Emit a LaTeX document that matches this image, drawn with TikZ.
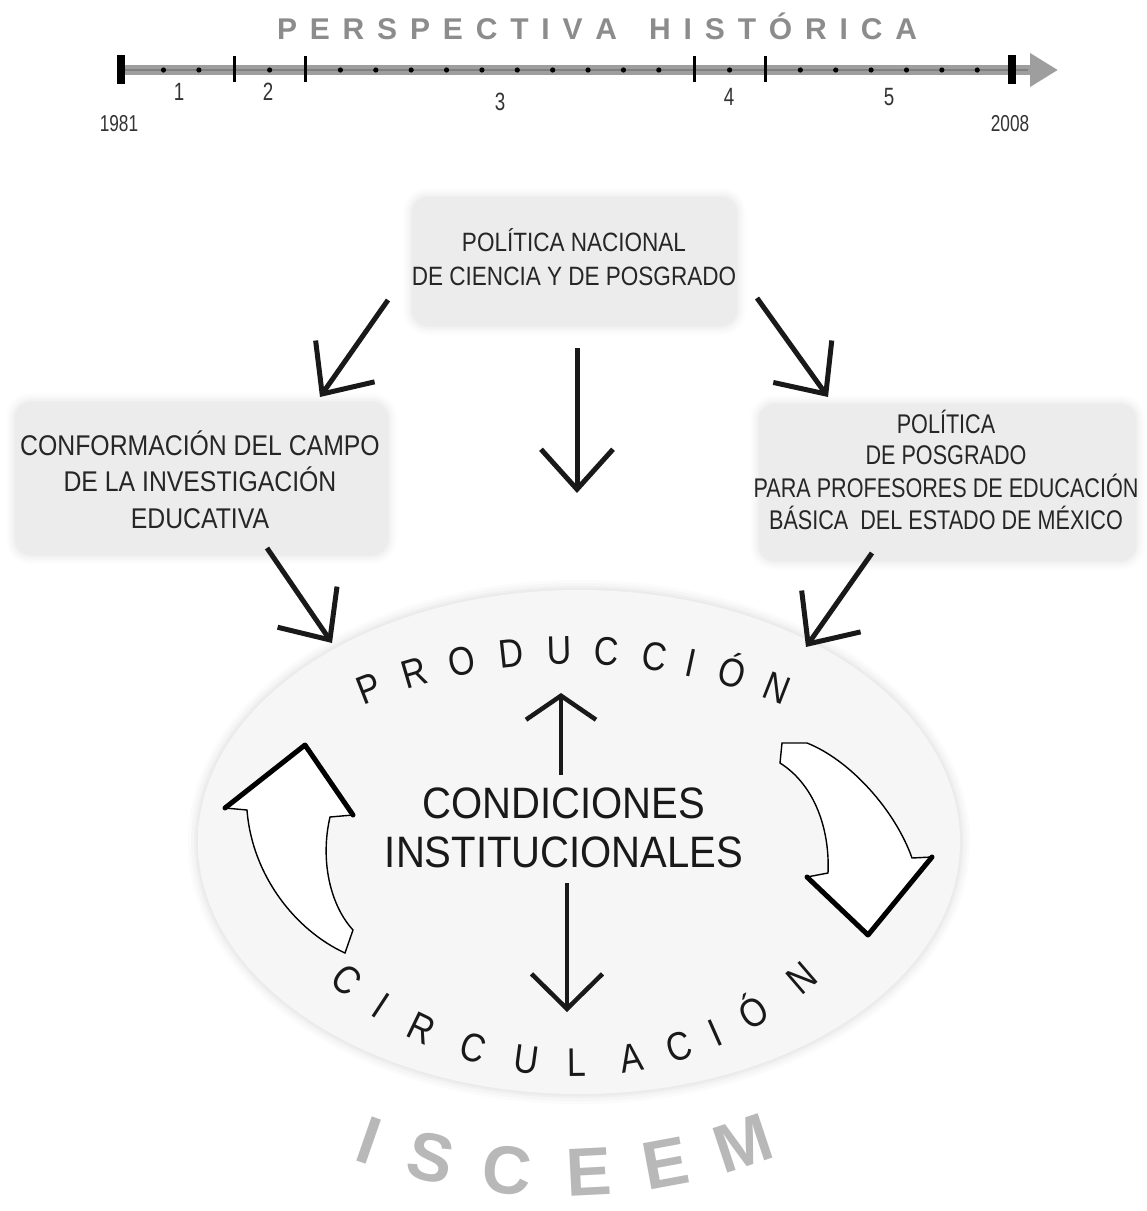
\documentclass[tikz,border=0pt]{standalone}
\usepackage{fontspec}
\setmainfont{Liberation Sans}
\newfontfamily\fntTop[FakeStretch=0.85]{Liberation Sans}
\newfontfamily\fntLeft[FakeStretch=0.87]{Liberation Sans}
\newfontfamily\fntRight[FakeStretch=0.80]{Liberation Sans}
\newfontfamily\fntDig[FakeStretch=0.75]{Liberation Sans}
\newfontfamily\fntCond[FakeStretch=0.91]{Liberation Sans}
\newfontfamily\fntArc[FakeStretch=0.85]{Liberation Sans}
\usetikzlibrary{arrows.meta,calc,shapes.geometric}
\definecolor{boxgray}{gray}{0.925}
\definecolor{oin}{gray}{0.965}
\definecolor{oout}{gray}{0.9}
\definecolor{tlgray}{gray}{0.62}
\definecolor{titlegray}{gray}{0.55}
\definecolor{logogray}{gray}{0.72}
\pgfdeclareradialshading{ovalsh}{\pgfpoint{0bp}{0bp}}{color(0bp)=(oin); color(30bp)=(oin); color(50bp)=(oout); color(72bp)=(oout)}
% soft halo behind a box: centre x, centre y, width, height
\newcommand\softhalo[4]{%
  \foreach \d/\p in {9/12,7/25,5/42,3/62,1/82}{%
    \fill[boxgray!\p, rounded corners=16+\d] (#1-#3/2-\d,#2-#4/2-\d) rectangle (#1+#3/2+\d,#2+#4/2+\d);}}
\begin{document}
\begin{tikzpicture}[x=1pt,y=1pt,
  lbl/.style={inner sep=0pt, outer sep=0pt, anchor=base},
  box/.style={draw=none, fill=boxgray, rounded corners=16pt, inner sep=0pt},
  arr/.style={line width=5pt, black!90, -{Straight Barb[length=40pt,width=72pt]}},
  barr/.style={fill=white, draw=black, line width=1.4pt, line join=miter},
  bedge/.style={line width=5pt, line join=round, line cap=round},
  toptxt/.style={lbl, font=\fntTop\fontsize{26.5}{26.5}\selectfont, text=black!85},
  lefttxt/.style={lbl, font=\fntLeft\fontsize{28.5}{28.5}\selectfont, text=black!85},
  righttxt/.style={lbl, font=\fntRight\fontsize{27}{27}\selectfont, text=black!85},
  digit/.style={lbl, font=\fntDig\fontsize{25}{25}\selectfont, text=black!80},
  year/.style={lbl, font=\fntDig\fontsize{23}{23}\selectfont, text=black!80},
  arcl/.style={lbl, font=\fntArc\fontsize{40}{40}\selectfont, text=black!90},
  logol/.style={lbl, font=\fontsize{68}{68}\selectfont\bfseries, text=logogray},
]
\fill[white] (0,0) rectangle (1147,-1211);
\useasboundingbox (0,0) rectangle (1147,-1211);

% ---------- title ----------
\node[inner sep=0pt, text=titlegray] (title) at (597,-26)
  {\fontsize{30}{30}\selectfont\bfseries\makebox[640pt][s]{P\hfil E\hfil R\hfil S\hfil P\hfil E\hfil C\hfil T\hfil I\hfil V\hfil A\hskip 0pt plus 2.5fil H\hfil I\hfil S\hfil T\hfil Ó\hfil R\hfil I\hfil C\hfil A}};

% ---------- timeline ----------
\coordinate (tlA) at (121,-70);
\coordinate (tlB) at (1058,-70);
\coordinate (tlC) at (1028,-70);
\draw[tlgray, line width=10pt, -{Triangle[length=28pt,width=32pt]}] (tlA) -- (tlB);
\draw[black!50, line width=2.5pt] (tlA) -- (tlC);
\fill[black] (117,-55) rectangle (125,-84);
\fill[black] (1008,-55) rectangle (1016,-84);
\foreach \x in {234.3,305.1,694.2,765} \draw[line width=3pt] (\x,-56) -- (\x,-82);
\foreach \k in {0,1,3,5,6,7,8,9,10,11,12,13,14,16,18,19,20,21,22,23}
  \fill ({163.5+35.38*\k},-70) circle (2.6);
\node[digit] (n1) at (179,-100) {1};
\node[digit] (n2) at (268,-100) {2};
\node[digit] (n3) at (500,-110) {3};
\node[digit] (n4) at (729,-105) {4};
\node[digit] (n5) at (889,-105) {5};
\node[year] (y1) at (119,-131) {1981};
\node[year] (y2) at (1010,-131) {2008};

% ---------- oval ----------
\foreach \d/\p in {10/15,7/35,4/60,2/80}
  \fill[oout!\p] (579,-842) ellipse [x radius=381+\d, y radius=252+\d];
\node[ellipse, minimum width=762, minimum height=504, shading=ovalsh] (oval) at (579,-842) {};

% ---------- boxes ----------
\softhalo{574.5}{-261.5}{325}{129}
\softhalo{201.5}{-478.5}{373}{153}
\softhalo{947.5}{-482.5}{377}{157}
\node[box, minimum width=325, minimum height=129] (bTop) at (574.5,-261.5) {};
\node[box, minimum width=373, minimum height=153] (bLeft) at (201.5,-478.5) {};
\node[box, minimum width=377, minimum height=157] (bRight) at (947.5,-482.5) {};

\node[toptxt] (t1) at (574,-251.5) {POLÍTICA NACIONAL};
\node[toptxt] (t2) at (574,-285.5) {DE CIENCIA Y DE POSGRADO};

\node[lefttxt] (l1) at (200,-455) {CONFORMACIÓN DEL CAMPO};
\node[lefttxt] (l2) at (200,-491) {DE LA INVESTIGACIÓN};
\node[lefttxt] (l3) at (200,-528) {EDUCATIVA};

\node[righttxt] (r1) at (946,-433) {POLÍTICA};
\node[righttxt] (r2) at (946,-464) {DE POSGRADO};
\node[righttxt] (r3) at (946,-497) {PARA PROFESORES DE EDUCACIÓN};
\node[righttxt] (r4) at (946,-529) {BÁSICA\ \ DEL ESTADO DE MÉXICO};

% ---------- straight arrows ----------
\coordinate (a1s) at (388,-300); \coordinate (a1e) at (320,-397);
\coordinate (a2s) at (577,-348); \coordinate (a2e) at (577,-493);
\coordinate (a3s) at (757,-298); \coordinate (a3e) at (828,-397);
\coordinate (a4s) at (267,-548); \coordinate (a4e) at (332,-643);
\coordinate (a5s) at (872,-553); \coordinate (a5e) at (806,-647);
\draw[arr] (a1s) -- (a1e);
\draw[arr] (a2s) -- (a2e);
\draw[arr] (a3s) -- (a3e);
\draw[arr] (a4s) -- (a4e);
\draw[arr] (a5s) -- (a5e);

% ---------- centre text and arrows ----------
\node[inner sep=0pt, align=center, font=\fntCond\fontsize{44}{49}\selectfont, text=black!90] (cond) at (564,-827.5)
  {CONDICIONES\\INSTITUCIONALES};
\coordinate (upS) at (561,-775); \coordinate (upE) at (561,-693);
\coordinate (dnS) at (567,-883); \coordinate (dnE) at (567,-1012);
\draw[line width=4.5pt, black!90, -{Straight Barb[length=24pt,width=70pt]}] (upS) -- (upE);
\draw[line width=4.5pt, black!90, -{Straight Barb[length=35pt,width=71pt]}] (dnS) -- (dnE);

% ---------- curved block arrows ----------
\draw[barr] (305,-745) -- (353,-815) -- (330,-817)
  .. controls (320,-860) and (330,-905) .. (353,-930) -- (345,-953)
  .. controls (295,-930) and (252,-875) .. (247,-810) -- (225,-808) -- cycle;
\draw[bedge] (225,-808) -- (305,-745) -- (353,-815);

\draw[barr] (782,-743) -- (807,-743)
  .. controls (850,-760) and (895,-810) .. (912,-858) -- (932,-857) -- (868,-935)
  -- (807,-877) -- (828,-873)
  .. controls (830,-830) and (815,-785) .. (780,-763) -- cycle;
\draw[bedge] (932,-857) -- (868,-935) -- (807,-877);

% ---------- PRODUCCIÓN ----------
\coordinate (pc) at (573,-1211);
\foreach \l/\a [count=\i] in {P/111.3, R/106.4, O/101.4, D/96.3, U/91.4, C/86.6, C/81.6, I/77.8, Ó/73.5, N/68.7}
  \node[arcl, rotate=\a-90] (prod\i) at ($(pc)+(\a:547)$) {\l};

% ---------- CIRCULACIÓN ----------
\coordinate (cc) at (573.5,-712.5);
\foreach \l/\a [count=\i] in {C/229.7, I/236.7, R/244.3, C/253.3, U/262.3, L/270.6, A/279.5, C/287.5, I/293.9, Ó/301, N/310.6}
  \node[arcl, rotate=\a+90] (circ\i) at ($(cc)+(\a:364)$) {\l};

% ---------- ISCEEM ----------
\coordinate (ic) at (560,-593);
\foreach \l/\a [count=\i] in {I/250.8, S/257.1, C/264.8, E/272.9, E/280.5, M/288.4}
  \node[logol, rotate=\a+90] (logo\i) at ($(ic)+(\a:603)$) {\l};
\end{tikzpicture}
\end{document}
